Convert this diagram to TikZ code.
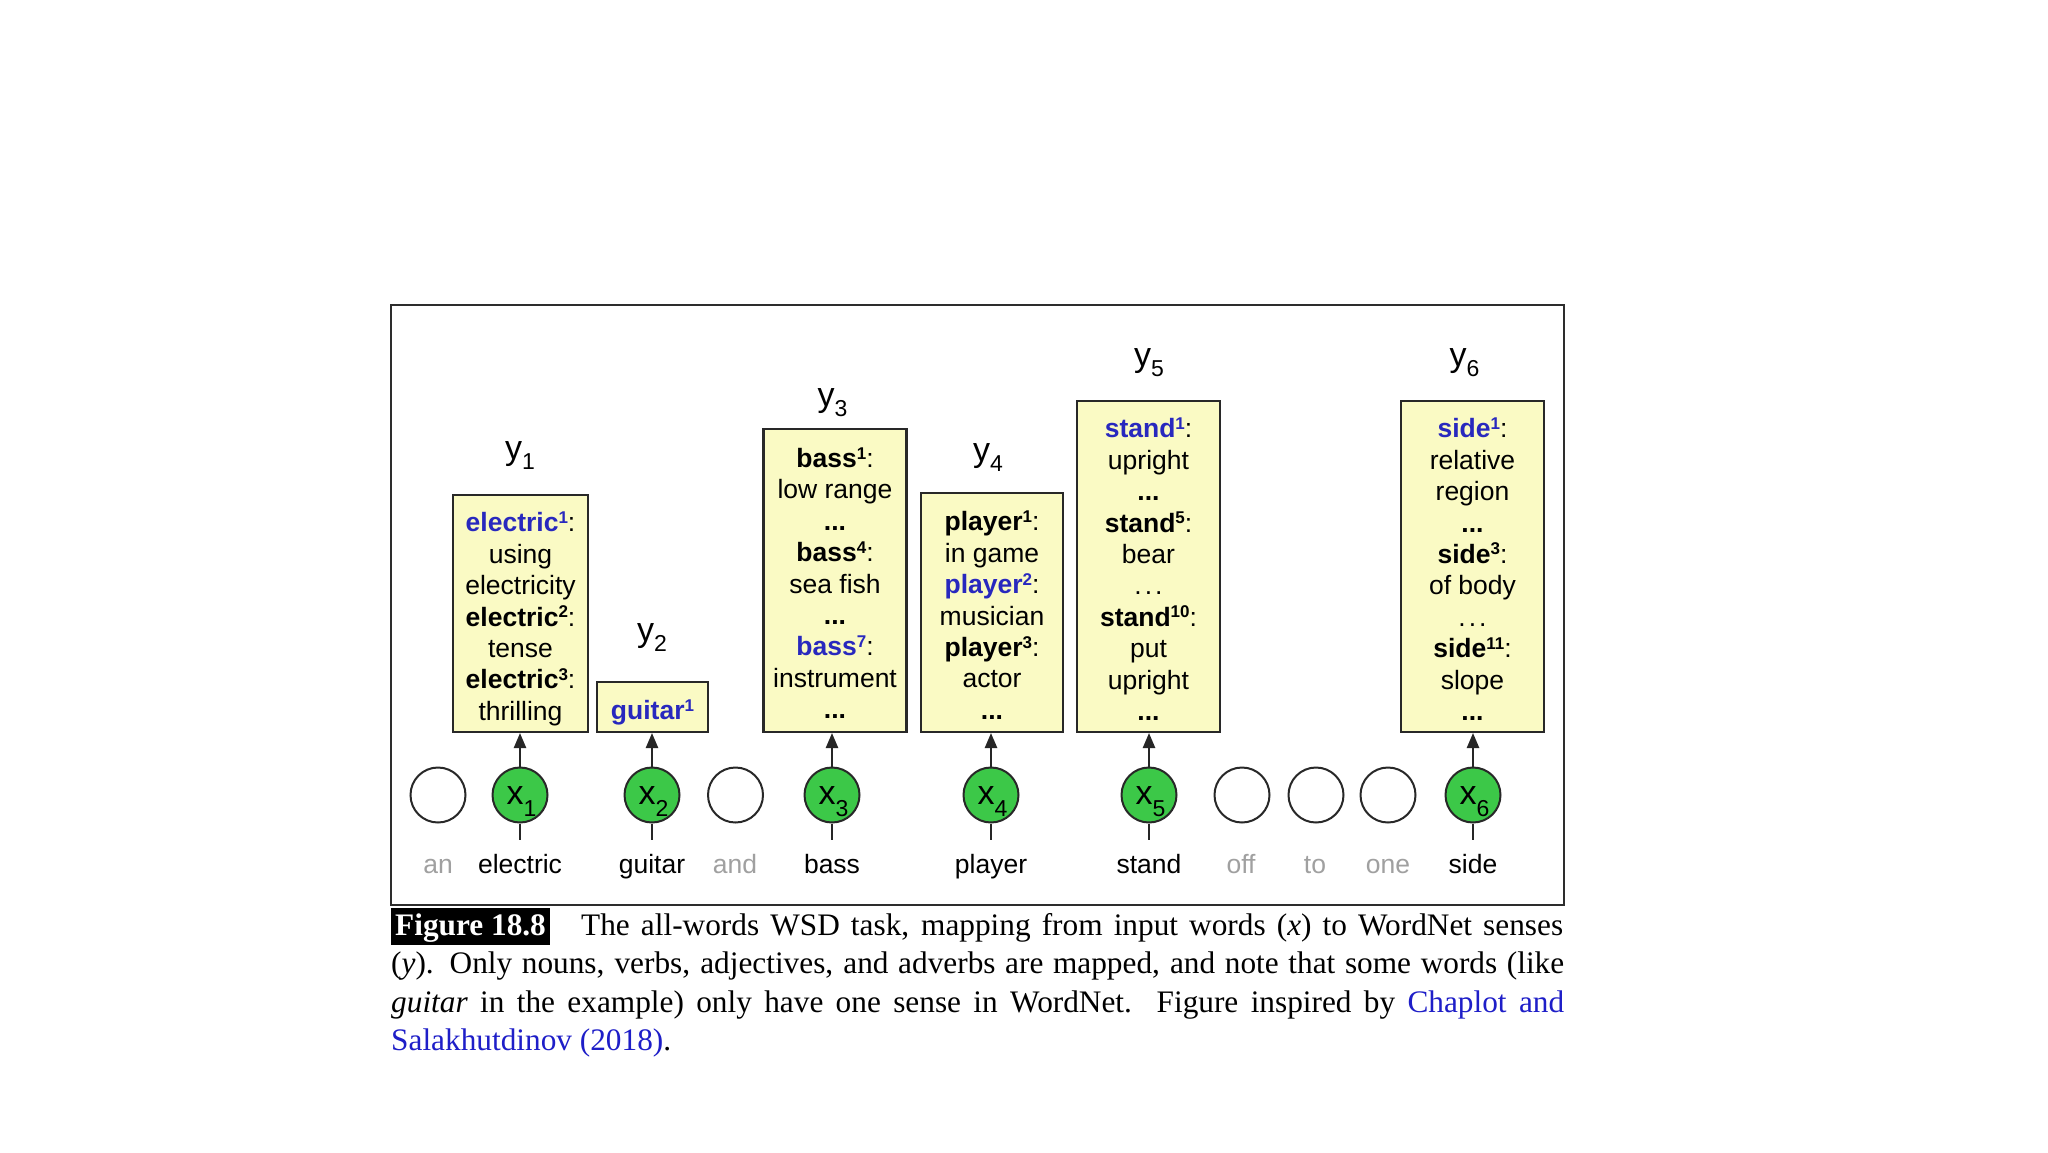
\documentclass[tikz,border=0pt]{standalone}
\usepackage{fontspec}
\setmainfont{Liberation Sans}
\newfontfamily\capfont{Liberation Serif}
\usetikzlibrary{arrows.meta}
\definecolor{boxfill}{RGB}{250,250,196}
\definecolor{boxline}{RGB}{40,40,40}
\definecolor{senseblue}{RGB}{40,40,190}
\definecolor{nodegreen}{RGB}{60,200,72}
\definecolor{circline}{RGB}{40,40,40}
\definecolor{wordgray}{RGB}{160,160,160}
\definecolor{linkblue}{RGB}{30,30,200}
\definecolor{framecol}{RGB}{45,45,45}
\newcommand\lnstrut{\rule[-6pt]{0pt}{37.5pt}}
\newcommand\supdig[1]{\raisebox{8.5pt}{\fontsize{17}{17}\selectfont #1}}
\newcommand\ksense[2]{\textbf{#1\supdig{#2}}:}
\newcommand\bsense[2]{\textcolor{senseblue}{\textbf{#1\supdig{#2}}}:}
\newcommand\bdots{\textbf{...}}
\newcommand\ltdots{.\hspace{3pt}.\hspace{3pt}.}
\newcommand\ysub[1]{\raisebox{-10.5pt}{\fontsize{23}{23}\selectfont #1}}
\newcommand\xlab[1]{\hspace{3pt}x\raisebox{-12pt}{\fontsize{23}{23}\selectfont #1}}
\newcommand\boxfont{\fontsize{26.5}{31.4}\selectfont\lineskiplimit=-60pt\relax}
\tikzset{
  sensebox/.style={draw=boxline, fill=boxfill, line width=2.2pt, rectangle,
    inner xsep=0pt, inner ysep=0pt, align=center, anchor=south,
    font=\boxfont},
  ylab/.style={anchor=base, inner sep=0pt, font=\fontsize{34}{34}\selectfont},
  wcirc/.style={circle, draw=circline, line width=2pt, minimum size=55pt,
    inner sep=0pt, fill=white},
  gcirc/.style={wcirc, fill=nodegreen, text height=20pt, text depth=2pt,
    font=\fontsize{34}{34}\selectfont},
  word/.style={anchor=base, inner xsep=0pt, inner ysep=14pt, text height=19pt,
    text depth=6pt, font=\fontsize{26.5}{31.4}\selectfont},
  grayword/.style={word, text=wordgray},
  conn/.style={draw=black!85, line width=2.4pt},
  upconn/.style={conn, -{Triangle[length=15pt,width=12pt]}},
  frameline/.style={draw=framecol, line width=2.4pt},
  figlab/.style={anchor=base west, fill=black, text=white, inner xsep=4pt,
    inner ysep=0pt, text height=27pt, text depth=10pt,
    font=\capfont\bfseries\fontsize{31.3}{38.3}\selectfont},
  capline/.style={anchor=base west, inner sep=0pt,
    font=\capfont\fontsize{31.3}{38.3}\selectfont},
}
\begin{document}
\begin{tikzpicture}[x=1pt,y=-1pt]
\fill[white] (0,0) rectangle (2048,1152);
\useasboundingbox (0,0) rectangle (2048,1152);

% frame
\draw[frameline] (391,305) rectangle (1564,905);

% sense boxes
\node[sensebox, minimum width=135pt, minimum height=237pt] (b1) at (520.5,733)
 {\lnstrut\bsense{electric}{1}\\\lnstrut using\\\lnstrut electricity\\\lnstrut\ksense{electric}{2}\\\lnstrut tense\\\lnstrut\ksense{electric}{3}\\\lnstrut thrilling};
\node[sensebox, minimum width=111pt, minimum height=50pt] (b2) at (652.5,733)
 {\lnstrut\textcolor{senseblue}{\textbf{guitar\supdig{1}}}};
\node[sensebox, minimum width=143pt, minimum height=303pt] (b3) at (835,733)
 {\lnstrut\ksense{bass}{1}\\\lnstrut low range\\\lnstrut\bdots\\\lnstrut\ksense{bass}{4}\\\lnstrut sea fish\\\lnstrut\bdots\\\lnstrut\bsense{bass}{7}\\\lnstrut instrument\\\lnstrut\bdots};
\node[sensebox, minimum width=142pt, minimum height=239pt] (b4) at (992,733)
 {\lnstrut\ksense{player}{1}\\\lnstrut in game\\\lnstrut\bsense{player}{2}\\\lnstrut musician\\\lnstrut\ksense{player}{3}\\\lnstrut actor\\\lnstrut\bdots};
\node[sensebox, minimum width=143pt, minimum height=331pt] (b5) at (1148.5,733)
 {\lnstrut\bsense{stand}{1}\\\lnstrut upright\\\lnstrut\bdots\\\lnstrut\ksense{stand}{5}\\\lnstrut bear\\\lnstrut\ltdots\\\lnstrut\ksense{stand}{10}\\\lnstrut put\\\lnstrut upright\\\lnstrut\bdots};
\node[sensebox, minimum width=143pt, minimum height=331pt] (b6) at (1472.5,733)
 {\lnstrut\bsense{side}{1}\\\lnstrut relative\\\lnstrut region\\\lnstrut\bdots\\\lnstrut\ksense{side}{3}\\\lnstrut of body\\\lnstrut\ltdots\\\lnstrut\ksense{side}{11}\\\lnstrut slope\\\lnstrut\bdots};

% y labels
\node[ylab] (y1) at (520,459) {y\ysub{1}};
\node[ylab] (y2) at (652,641) {y\ysub{2}};
\node[ylab] (y3) at (832.5,406) {y\ysub{3}};
\node[ylab] (y4) at (988,461) {y\ysub{4}};
\node[ylab] (y5) at (1149,366) {y\ysub{5}};
\node[ylab] (y6) at (1464.5,366) {y\ysub{6}};

% circles
\node[wcirc] (c0) at (438,795) {};
\node[gcirc] (c1) at (520,795) {\xlab{1}};
\node[gcirc] (c2) at (652,795) {\xlab{2}};
\node[wcirc] (ca) at (735.5,795) {};
\node[gcirc] (c3) at (832,795) {\xlab{3}};
\node[gcirc] (c4) at (991,795) {\xlab{4}};
\node[gcirc] (c5) at (1149,795) {\xlab{5}};
\node[wcirc] (cf) at (1242,795) {};
\node[wcirc] (ct) at (1316,795) {};
\node[wcirc] (co) at (1388,795) {};
\node[gcirc] (c6) at (1473,795) {\xlab{6}};

% words
\node[grayword] (w0) at (438,873) {an};
\node[word] (w1) at (520,873) {electric};
\node[word] (w2) at (652,873) {guitar};
\node[grayword] (wa) at (735,873) {and};
\node[word] (w3) at (832,873) {bass};
\node[word] (w4) at (991,873) {player};
\node[word] (w5) at (1149,873) {stand};
\node[grayword] (wf) at (1241,873) {off};
\node[grayword] (wt) at (1315,873) {to};
\node[grayword] (wo) at (1388,873) {one};
\node[word] (w6) at (1473,873) {side};

% connectors
\foreach \i in {1,...,6}{
  \draw[conn] (c\i.south) -- (w\i.north);
  \draw[upconn] (c\i.north) -- (c\i.north |- b\i.south);
}

% caption
\node[figlab] (fig) at (391,935) {Figure 18.8};
\node[capline] (cap1) at (581,935) {\makebox[982pt][s]{The all-words WSD task, mapping from input words (\textit{x}) to WordNet senses}};
\node[capline] (cap2) at (391,973.5) {\makebox[1173pt][s]{(\textit{y}). Only nouns, verbs, adjectives, and adverbs are mapped, and note that some words (like}};
\node[capline] (cap3) at (391,1012) {\makebox[1173pt][s]{\textit{guitar} in the example) only have one sense in WordNet.\ \ Figure inspired by \textcolor{linkblue}{Chaplot and}}};
\node[capline] (cap4) at (391,1050) {\textcolor{linkblue}{Salakhutdinov (2018)}.};
\end{tikzpicture}
\end{document}
